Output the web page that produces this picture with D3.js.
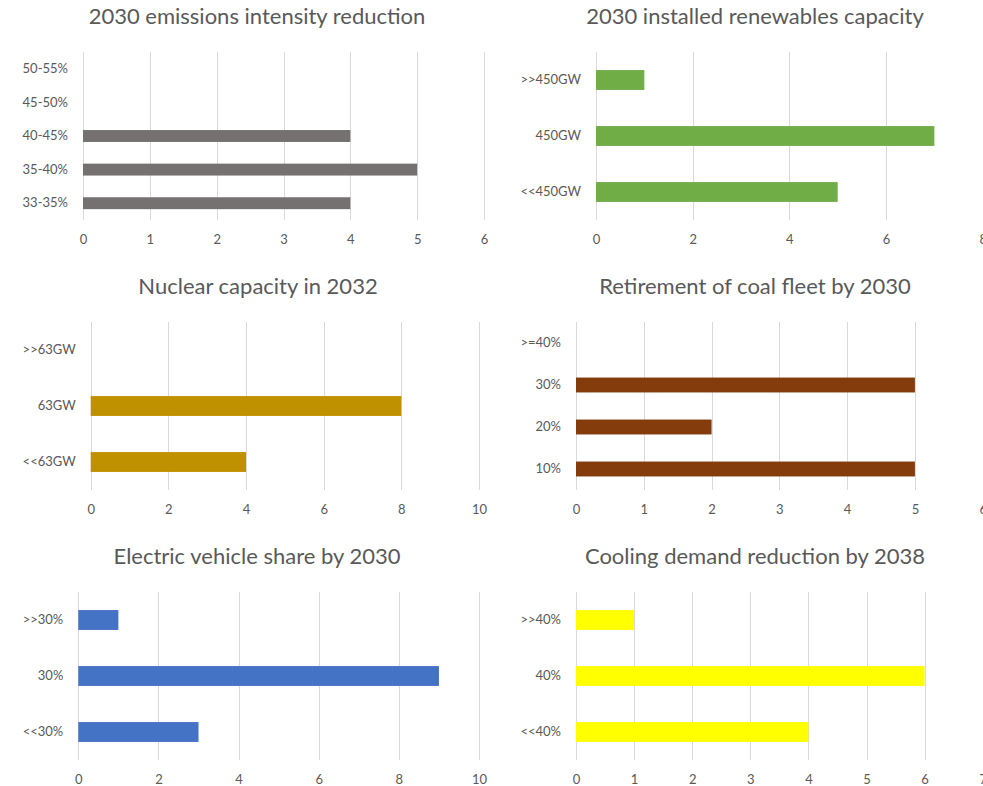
<!DOCTYPE html>
<html>
<head>
<meta charset="utf-8">
<script src="https://cdn.jsdelivr.net/npm/d3@7"></script>
<style>
  body { margin: 0; background: #fff; }
  svg { display: block; font-family: Lato, "Open Sans", sans-serif; }
</style>
</head>
<body>
<script>
// categories are listed bottom to top, as in the source chart
var emissionsCats = ["33-35%", "35-40%", "40-45%", "45-50%", "50-55%"];
var emissionsVals = [4, 5, 4, 0, 0];
var emissionsTicks = [0, 1, 2, 3, 4, 5, 6];

var renewCats = ["<<450GW", "450GW", ">>450GW"];
var renewVals = [5, 7, 1];
var renewTicks = [0, 2, 4, 6, 8];

var nuclearCats = ["<<63GW", "63GW", ">>63GW"];
var nuclearVals = [4, 8, 0];
var nuclearTicks = [0, 2, 4, 6, 8, 10];

var coalCats = ["10%", "20%", "30%", ">=40%"];
var coalVals = [5, 2, 5, 0];
var coalTicks = [0, 1, 2, 3, 4, 5, 6];

var evCats = ["<<30%", "30%", ">>30%"];
var evVals = [3, 9, 1];
var evTicks = [0, 2, 4, 6, 8, 10];

var coolingCats = ["<<40%", "40%", ">>40%"];
var coolingVals = [4, 6, 1];
var coolingTicks = [0, 1, 2, 3, 4, 5, 6, 7];

var titles = [
  "2030 emissions intensity reduction",
  "2030 installed renewables capacity",
  "Nuclear capacity in 2032",
  "Retirement of coal fleet by 2030",
  "Electric vehicle share by 2030",
  "Cooling demand reduction by 2038"
];

var panels = [
  { cats: emissionsCats, vals: emissionsVals, ticks: emissionsTicks, color: "#767171", x0: 83, x1: 484, top: 52, cx: 257 },
  { cats: renewCats, vals: renewVals, ticks: renewTicks, color: "#70AD47", x0: 596, x1: 982.7, top: 52, cx: 755 },
  { cats: nuclearCats, vals: nuclearVals, ticks: nuclearTicks, color: "#BF9000", x0: 90.7, x1: 479, top: 322, cx: 258 },
  { cats: coalCats, vals: coalVals, ticks: coalTicks, color: "#843C0C", x0: 576, x1: 982.7, top: 322, cx: 755 },
  { cats: evCats, vals: evVals, ticks: evTicks, color: "#4472C4", x0: 78.3, x1: 479, top: 592, cx: 257 },
  { cats: coolingCats, vals: coolingVals, ticks: coolingTicks, color: "#FFFF00", x0: 576, x1: 982.7, top: 592, cx: 755 }
];

var plotH = 168;
var gap = 1 - 1 / 2.82;

var svg = d3.select("body").append("svg")
    .attr("width", 983)
    .attr("height", 786);

panels.forEach(function (p, i) {
  var g = svg.append("g");

  var x = d3.scaleLinear()
      .domain([p.ticks[0], p.ticks[p.ticks.length - 1]])
      .range([p.x0, p.x1]);

  var y = d3.scaleBand()
      .domain(p.cats.slice().reverse())
      .range([p.top, p.top + plotH])
      .paddingInner(gap)
      .paddingOuter(gap / 2);

  g.append("text")
      .attr("x", p.cx)
      .attr("y", p.top - 34)
      .attr("text-anchor", "middle")
      .attr("dominant-baseline", "middle")
      .attr("font-size", 22)
      .attr("fill", "#595959")
      .text(titles[i]);

  // gridlines
  g.selectAll(".grid")
    .data(p.ticks)
    .enter().append("line")
      .attr("x1", function (d) { return Math.round(x(d)) + 0.5; })
      .attr("x2", function (d) { return Math.round(x(d)) + 0.5; })
      .attr("y1", p.top)
      .attr("y2", p.top + plotH)
      .attr("stroke", "#D9D9D9")
      .attr("stroke-width", 1);

  g.selectAll(".bar")
    .data(p.cats.map(function (c, j) { return { cat: c, val: p.vals[j] }; }))
    .enter().append("rect")
      .attr("x", x(0))
      .attr("y", function (d) { return y(d.cat); })
      .attr("width", function (d) { return x(d.val) - x(0); })
      .attr("height", y.bandwidth())
      .attr("fill", p.color);

  var xAxis = d3.axisBottom(x).tickValues(p.ticks).tickFormat(d3.format("d"))
      .tickSize(0).tickPadding(15);
  var yAxis = d3.axisLeft(y).tickSize(0).tickPadding(15);

  var ax = g.append("g")
      .attr("transform", "translate(0," + (p.top + plotH) + ")")
      .call(xAxis);
  ax.select(".domain").remove();
  ax.selectAll("text").attr("fill", "#595959").attr("font-size", 13)
      .style("font-family", "Lato, 'Open Sans', sans-serif");

  var ay = g.append("g")
      .attr("transform", "translate(" + x(0) + ",0)")
      .call(yAxis);
  ay.select(".domain").remove();
  ay.selectAll("text").attr("fill", "#595959").attr("font-size", 13)
      .style("font-family", "Lato, 'Open Sans', sans-serif");
});
</script>
</body>
</html>
